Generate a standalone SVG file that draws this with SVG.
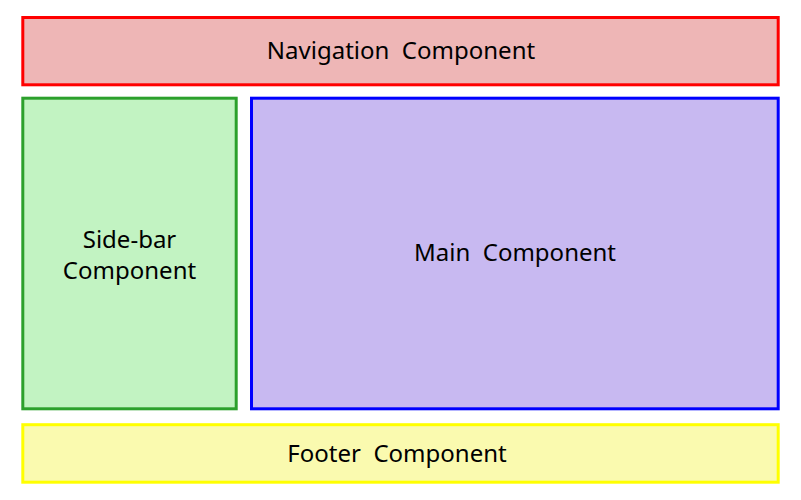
<svg xmlns="http://www.w3.org/2000/svg" width="801" height="500" viewBox="0 0 801 500">
<style>
.box{stroke-width:3}
.lbl{font-family:"Noto Sans","Open Sans","DejaVu Sans",sans-serif;font-size:24px;fill:#000;text-anchor:middle;white-space:pre}
</style>
<rect x="0" y="0" width="801" height="500" fill="#ffffff"/>
<g id="nav">
<rect class="box" x="22.8" y="17.5" width="755.4" height="67.3" fill="#eeb6b6" stroke="#ff0000"/>
<text class="lbl" x="401" y="58.5" xml:space="preserve">Navigation  Component</text>
</g>
<g id="sidebar">
<rect class="box" x="22.8" y="98.2" width="213.4" height="310.6" fill="#c2f3c2" stroke="#2ca02c"/>
<text class="lbl" x="129.5" y="248">Side-bar</text>
<text class="lbl" x="129.5" y="279">Component</text>
</g>
<g id="main">
<rect class="box" x="251.5" y="98.2" width="526.7" height="310.6" fill="#c8b9f1" stroke="#0000ff"/>
<text class="lbl" x="515" y="261" xml:space="preserve">Main  Component</text>
</g>
<g id="footer">
<rect class="box" x="22.8" y="424.7" width="755.4" height="57.5" fill="#fafaaf" stroke="#ffff00"/>
<text class="lbl" x="397" y="462.3" xml:space="preserve">Footer  Component</text>
</g>
<g id="connectors"/>
</svg>
